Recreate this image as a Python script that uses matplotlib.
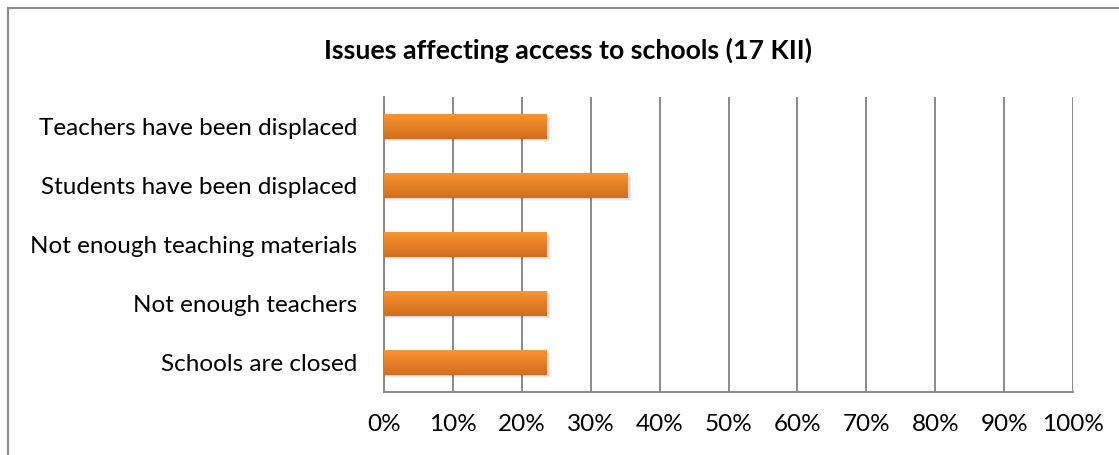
import numpy as np
import matplotlib.pyplot as plt
from matplotlib.patches import Rectangle
from matplotlib.ticker import PercentFormatter

categories = ["Schools are closed", "Not enough teachers", "Not enough teaching materials",
              "Students have been displaced", "Teachers have been displaced"]
values = [4 / 17, 4 / 17, 4 / 17, 6 / 17, 4 / 17]
ticks = np.arange(0, 1.01, 0.1)

plt.rcParams['font.family'] = ['Lato', 'DejaVu Sans']

fig = plt.figure(figsize=(11.19, 4.55), dpi=100)
ax = fig.add_axes([384 / 1119, 63 / 455, 689 / 1119, 295 / 455])

# outer chart frame (cut off at right and bottom as in the original)
fig.patches.append(Rectangle((8 / 1119, -0.1), 1.2, 1.1 - 8 / 455, transform=fig.transFigure,
                             fill=False, edgecolor='#8c8c8c', linewidth=1.5))

y = np.arange(len(categories))
h = 0.41
grad = np.linspace(0, 1, 64).reshape(-1, 1)
top_c = np.array([0xf9, 0x94, 0x2f]) / 255
bot_c = np.array([0xd0, 0x6e, 0x1f]) / 255
img = top_c * (1 - grad[..., None]) + bot_c * grad[..., None]

for yi, v in zip(y, values):
    # soft shadow
    for k, a in enumerate([0.08, 0.05, 0.03]):
        off = 0.004 + k * 0.002
        ax.add_patch(Rectangle((0, yi - h / 2 - 0.03 - k * 0.015), v + off, h,
                               facecolor='black', alpha=a, linewidth=0, zorder=2))
    ax.imshow(img, extent=(0, v, yi - h / 2, yi + h / 2), aspect='auto', zorder=3,
              interpolation='bilinear', origin='upper')

ax.set_xlim(0, 1)
ax.set_ylim(-0.5, len(categories) - 0.5)
ax.set_xticks(ticks)
ax.xaxis.set_major_formatter(PercentFormatter(1, decimals=0))
ax.set_yticks(y)
ax.set_yticklabels(categories)
ax.tick_params(axis='both', length=0, labelsize=17.5, colors='black')
ax.tick_params(axis='x', pad=16)
ax.tick_params(axis='y', pad=19)
ax.grid(axis='x', color='#8a8a8a', linewidth=1.4, zorder=1)
ax.set_axisbelow(True)
for s in ['top', 'right']:
    ax.spines[s].set_visible(False)
for s in ['left', 'bottom']:
    ax.spines[s].set_color('#8a8a8a')
    ax.spines[s].set_linewidth(1.4)

fig.text(568 / 1119, 1 - 50 / 455, "Issues affecting access to schools (17 KII)",
         ha='center', va='center', fontsize=19.3, fontweight='bold')

fig.savefig('out.png', dpi=100)
